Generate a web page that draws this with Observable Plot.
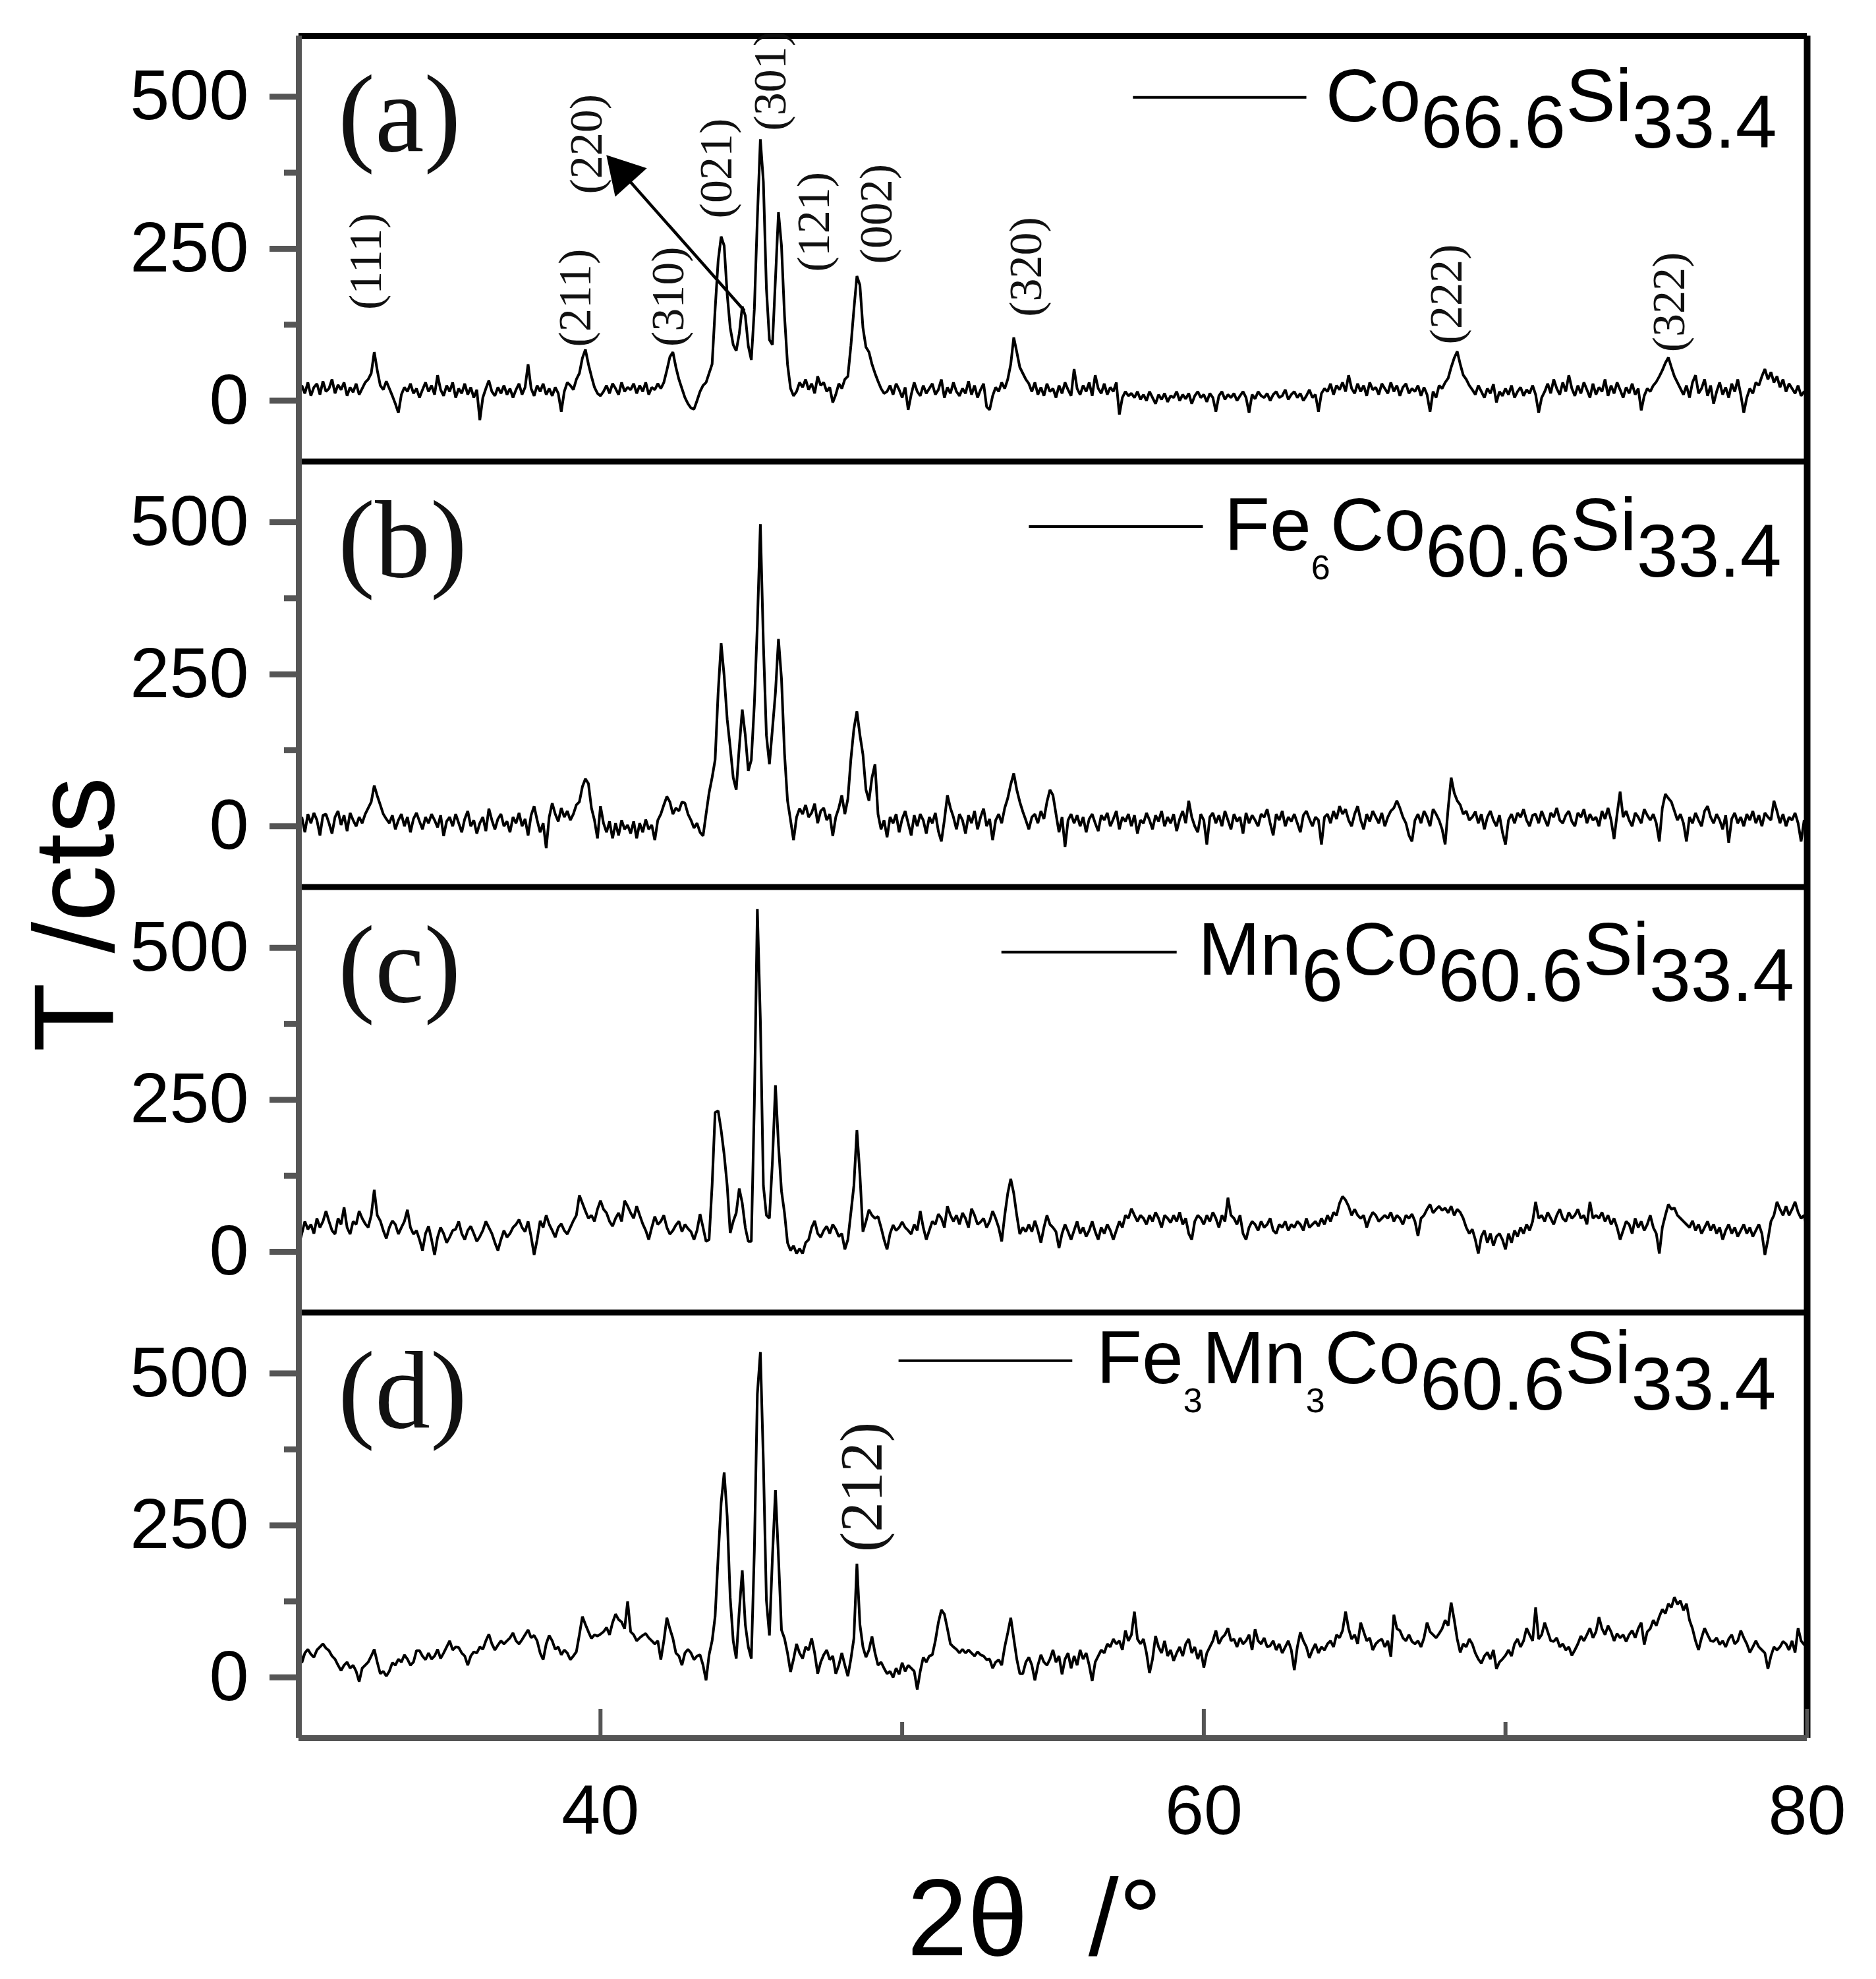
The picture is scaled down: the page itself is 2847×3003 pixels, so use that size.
<!DOCTYPE html>
<html><head><meta charset="utf-8">
<script src="https://cdn.jsdelivr.net/npm/d3@7"></script>
<script src="https://cdn.jsdelivr.net/npm/@observablehq/plot@0.6"></script>
<style>
html,body{margin:0;padding:0;background:#fff;}
#chart{width:2847px;height:3003px;}
</style></head><body><div id="chart"></div>
<script>
// 2θ grid of the scans: 30° to 80°, step 0.1°
const twoThetaStart = 30, twoThetaStep = 0.1;

// (a) Co66.6Si33.4
const seriesA = [
5,25,12,30,8,22,28,10,32,15,
20,35,12,26,18,30,8,22,14,28,
10,20,30,35,45,80,50,25,18,32,
20,8,-5,-20,10,22,15,28,12,20,
5,18,30,15,25,10,42,18,8,25,
15,30,5,20,12,28,10,22,5,18,
-32,5,20,33,15,8,22,12,25,10,
20,5,18,28,10,22,60,20,8,25,
15,28,10,20,8,22,12,-18,15,30,
25,18,35,45,70,84,60,40,22,12,
8,15,25,12,28,20,10,30,15,22,
18,28,12,25,15,30,10,22,18,28,
20,30,50,72,80,55,35,20,5,-5,
-12,-14,0,15,25,30,45,60,150,230,
270,255,175,120,92,82,110,155,140,90,
67,150,300,430,360,185,100,92,200,310,
255,140,60,20,8,15,30,22,35,18,
28,12,40,25,30,15,22,-3,10,28,
20,35,40,90,150,205,190,120,88,80,
60,45,32,20,12,15,25,10,28,18,
5,22,-15,10,30,15,8,25,12,20,
28,10,18,35,5,22,12,30,15,8,
20,12,32,10,25,5,18,28,-10,-15,
8,22,15,30,20,35,60,104,80,55,
45,35,28,15,30,10,22,8,28,15,
20,5,25,12,30,18,8,52,20,10,
25,15,30,8,42,20,12,28,10,22,
15,30,-23,5,15,8,12,5,15,2,
10,0,15,5,-5,10,2,12,-2,8,
5,15,0,10,3,12,-5,8,15,5,
10,-2,12,5,-18,8,15,2,10,5,
12,0,8,15,5,-20,10,3,15,8,
5,12,0,10,15,5,8,18,2,10,
15,5,12,0,8,18,5,10,-18,12,
20,15,28,10,25,18,30,15,42,20,
12,28,15,25,8,30,18,22,10,28,
20,12,30,15,25,8,22,28,12,20,
15,25,8,22,10,-18,15,5,25,20,
30,37,55,70,81,60,42,35,25,18,
10,25,15,5,20,12,27,-3,15,8,
20,10,25,5,15,22,8,18,12,25,
10,-20,5,15,28,12,35,20,10,30,
15,42,20,8,25,12,30,18,5,28,
10,22,15,35,8,25,12,30,18,5,
22,12,28,10,20,-16,8,20,15,25,
31,40,50,62,71,55,40,30,20,10,
25,5,30,42,12,20,35,8,25,-5,
15,30,10,22,5,28,15,35,10,-20,
5,20,12,30,25,40,52,35,47,30,
40,22,35,15,28,20,12,25,8,15,
12];

// (b) Fe6Co60.6Si33.4
const seriesB = [
0,15,-10,20,5,22,10,-15,18,20,
5,-12,15,25,2,18,-8,22,10,0,
15,5,20,30,40,67,50,35,20,12,
5,18,-5,10,20,0,15,-10,12,22,
8,-5,15,5,20,10,-2,18,-16,8,
15,0,20,5,-10,12,25,0,10,-12,
5,15,-8,29,10,-5,12,20,0,8,
-10,15,5,22,0,12,-15,18,33,10,
-10,5,-36,15,38,20,8,30,15,25,
10,20,35,40,65,78,70,30,10,-20,
33,5,-10,8,-20,5,-15,10,-5,2,
-12,8,-20,5,-10,11,-5,2,-23,10,
20,35,49,40,20,30,25,40,38,20,
10,-3,5,-10,-16,20,55,80,109,220,
301,247,176,130,80,60,130,192,150,91,
109,200,332,497,300,150,102,160,220,308,
243,120,42,10,-23,15,29,20,35,15,
22,37,5,25,30,10,20,-16,15,30,
51,20,45,110,160,189,150,118,60,42,
80,102,20,-5,10,-18,15,5,20,-10,
12,25,5,-15,18,0,20,10,-12,15,
5,22,-8,-25,10,51,30,15,-5,20,
10,-12,18,5,25,-5,15,29,0,12,
-23,10,20,5,30,46,69,87,60,40,
24,10,-5,15,20,5,25,12,40,60,
51,20,-10,15,-34,10,20,5,18,0,
15,-10,12,20,5,-8,18,10,22,0,
12,25,-5,15,8,20,0,18,-12,10,
5,22,10,-5,18,8,25,0,15,5,
20,-8,12,25,5,42,15,0,-10,20,
10,-30,15,22,5,18,0,25,10,-5,
20,8,15,-12,22,5,18,10,0,20,
15,28,5,-15,20,10,25,0,15,8,
20,5,-10,18,25,12,0,15,10,-30,
15,20,5,25,12,33,20,28,10,0,
20,33,10,-5,20,8,25,15,5,22,
0,15,25,30,42,30,15,5,-15,-25,
10,20,5,25,15,0,28,20,10,-5,
-30,30,80,55,42,35,20,25,10,15,
24,5,20,-5,15,25,10,0,18,-10,
-30,10,20,5,22,15,28,10,0,18,
20,5,25,12,0,22,15,30,10,5,
18,25,8,0,22,15,28,5,20,10,
15,0,25,12,30,10,-21,20,57,15,
25,10,0,22,15,5,28,18,10,20,
5,-25,30,53,46,40,25,10,20,5,
-25,15,5,22,10,0,25,33,15,5,
20,10,-5,18,-27,12,22,5,15,0,
20,10,25,5,18,0,22,15,10,42,
25,5,20,0,15,10,22,5,-25,10,
2];

// (c) Mn6Co60.6Si33.4
const seriesC = [
11,30,50,37,45,30,55,40,50,67,
50,35,29,55,45,73,40,29,50,45,
67,55,46,40,60,102,60,51,35,22,
40,51,45,29,40,50,69,40,29,35,
20,2,30,42,20,-5,24,40,30,15,
24,35,37,50,30,20,35,42,30,17,
25,35,50,40,30,15,2,20,35,24,
30,40,45,53,40,33,50,25,-5,20,
51,40,60,45,35,24,40,46,35,29,
40,51,60,93,80,67,55,60,50,70,
84,70,64,50,42,55,64,50,84,75,
64,55,75,60,46,35,20,40,58,45,
50,60,40,29,35,44,50,33,45,38,
33,20,35,62,40,17,20,109,229,232,
200,160,109,31,50,64,104,80,40,17,
17,243,564,381,109,60,55,149,274,176,
100,64,15,2,10,-3,5,-3,15,20,
40,51,30,24,35,42,30,45,37,25,
30,4,20,64,109,200,127,33,50,69,
60,55,58,40,20,4,30,44,35,40,
49,40,35,29,45,35,67,40,20,35,
50,45,62,55,40,75,60,50,60,45,
64,55,40,71,60,45,49,55,40,50,
67,55,40,17,60,96,120,96,60,29,
40,33,45,33,51,35,15,40,60,45,
40,33,6,30,45,33,20,35,50,30,
40,25,35,50,33,20,40,30,45,35,
20,35,50,40,60,55,71,60,50,60,
55,45,60,50,65,55,40,60,55,48,
60,50,65,45,55,30,20,50,60,55,
45,60,50,65,55,40,60,50,89,60,
55,45,60,30,20,40,50,45,35,50,
40,45,55,35,30,45,40,50,35,45,
40,50,45,35,55,40,45,50,42,55,
45,60,50,65,60,80,91,85,75,60,
70,60,55,60,40,55,65,60,50,55,
60,55,65,50,60,55,45,60,55,62,
50,26,55,60,70,78,64,70,75,68,
72,64,75,60,70,65,55,40,30,37,
20,-3,25,35,15,30,10,25,30,20,
4,30,15,35,25,40,30,45,35,50,
82,55,60,50,65,55,45,60,70,55,
50,65,55,60,70,55,60,45,82,55,
60,55,65,50,60,45,55,40,20,35,
50,45,30,55,40,50,35,45,60,40,
30,-3,40,60,78,70,72,60,55,50,
45,40,51,35,45,30,40,50,35,45,
30,40,20,35,45,30,40,25,35,45,
30,40,25,35,45,30,-5,20,50,60,
82,70,60,75,60,70,82,65,55,60,
37];

// (d) Fe3Mn3Co60.6Si33.4
const seriesD = [
60,24,40,46,38,33,45,50,55,48,
44,35,30,20,11,20,25,15,20,10,
-7,15,20,25,35,46,25,6,10,2,
10,24,20,30,25,37,30,20,25,44,
44,35,29,40,30,35,46,31,40,50,
60,45,50,49,40,35,20,35,42,40,
50,46,60,71,55,45,53,60,55,60,
65,73,60,55,62,70,78,65,69,60,
40,29,55,69,60,46,50,37,45,40,
29,35,42,70,100,87,75,64,70,68,
71,75,82,70,90,104,95,91,80,125,
75,70,60,65,69,72,65,60,55,60,
29,60,98,80,64,40,35,20,40,46,
40,29,35,37,20,-5,37,60,100,198,
287,337,265,131,60,31,109,176,87,50,
31,207,466,535,354,127,69,198,308,198,
78,64,40,9,30,55,40,31,50,45,
64,40,6,25,37,45,29,35,6,20,
40,20,2,30,64,187,87,50,33,45,
67,40,20,25,15,6,10,0,15,5,
24,10,20,15,10,-20,10,33,25,35,
37,60,90,111,104,80,55,50,46,40,
46,40,45,40,35,42,37,35,29,30,
15,25,29,20,50,73,98,64,30,6,
6,25,33,20,-5,20,37,25,20,30,
45,25,35,5,30,40,15,35,20,45,
30,40,20,-6,25,35,45,40,55,50,
63,55,60,45,77,60,70,108,63,55,
63,40,7,30,68,50,40,60,35,45,
27,40,50,35,55,63,40,50,30,45,
16,40,50,60,77,55,65,70,81,60,
63,50,65,55,60,70,45,79,60,55,
65,50,52,60,45,55,40,50,60,45,
12,50,74,60,50,32,45,55,40,50,
45,55,60,50,70,65,77,108,80,63,
70,55,90,75,60,65,45,55,60,63,
50,60,34,103,80,77,65,60,70,59,
55,60,50,65,90,75,70,65,72,80,
94,85,123,95,63,41,55,50,63,55,
40,30,23,35,41,30,45,14,25,30,
36,45,35,55,63,50,60,81,70,60,
115,63,70,90,75,60,59,65,50,55,
45,50,36,45,55,68,60,70,81,65,
75,99,80,70,85,75,60,72,65,70,
59,70,77,65,80,90,54,75,80,94,
85,100,112,105,121,115,132,120,126,110,
121,94,80,60,45,65,81,70,60,59,
65,54,60,50,63,70,55,60,77,65,
55,41,50,60,50,45,40,14,35,50,
45,50,59,55,45,60,41,81,60,54,
50];

const panelLetters = ["(a)", "(b)", "(c)", "(d)"];
const panelSeries = [seriesA, seriesB, seriesC, seriesD];
const yTickValues = [0, 250, 500];
const yMinorValues = [125, 375];
const xTickValues = [40, 60, 80];
const xMinorValues = [50, 70];

// Miller-index labels (panel a) : text, 2θ, intensity at label centre
const hklText = ["(111)", "(211)", "(310)", "(220)", "(021)", "(301)", "(121)", "(002)", "(320)", "(222)", "(322)"];
const hklAngle = [32.23, 39.17, 42.25, 39.55, 43.85, 45.64, 47.08, 49.16, 54.12, 68.05, 75.43];
const hklLevel = [229, 169, 171, 422, 382, 526, 294, 307, 220, 175, 162];

// legends: formula pieces (kind 0 normal, 1 subscript, 2 small subscript)
const legendParts = [
  [["Co",0],["66.6",1],["Si",0],["33.4",1]],
  [["Fe",0],["6",2],["Co",0],["60.6",1],["Si",0],["33.4",1]],
  [["Mn",0],["6",1],["Co",0],["60.6",1],["Si",0],["33.4",1]],
  [["Fe",0],["3",2],["Mn",0],["3",2],["Co",0],["60.6",1],["Si",0],["33.4",1]]
];

// ---------- layout ----------
const W = 2847, H = 3003;
const PANEL_SPAN = 700;                         // each panel shows -100..600
const panelOffset = [3, 2, 1, 0].map(k => k * PANEL_SPAN);
const sans = "'Liberation Sans', Arial, Helvetica, sans-serif";
const serif = "'Liberation Serif', 'Times New Roman', serif";
const gray = "#555";

const twoTheta = d3.range(seriesA.length).map(i => Math.round((twoThetaStart + i * twoThetaStep) * 10) / 10);
const rows = [];
panelSeries.forEach((s, p) => s.forEach((v, i) => rows.push({x: twoTheta[i], y: v + panelOffset[p], panel: p})));

const majorTicks = panelOffset.flatMap(o => yTickValues.map(v => v + o));
const minorTicks = panelOffset.flatMap(o => yMinorValues.map(v => v + o));
const fmt = d => String(((d % PANEL_SPAN) + PANEL_SPAN) % PANEL_SPAN);

const hklRows = hklText.map((t, i) => ({t, x: hklAngle[i], y: hklLevel[i] + panelOffset[0]}));
const letterRows = panelLetters.map((t, p) => ({t, x: 31.3, y: 411 + panelOffset[p]}));

const legendPos = [
  {x1: 57.65, x2: 63.40, yl: 499, xt: 64.05, yt: 459},
  {x1: 54.20, x2: 59.97, yl: 493, xt: 60.69, yt: 453},
  {x1: 53.29, x2: 59.10, yl: 493, xt: 59.82, yt: 455},
  {x1: 49.88, x2: 55.64, yl: 521, xt: 56.45, yt: 483}
];
const legendLines = legendPos.map((L, p) => ({x1: L.x1, x2: L.x2, y: L.yl + panelOffset[p]}));

const pxToY = 2800 / 2583;   // data units per pixel vertically

const plot = Plot.plot({
  width: W, height: H,
  marginLeft: 453, marginRight: 105, marginTop: 54, marginBottom: 366,
  x: {domain: [30, 80]},
  y: {domain: [-100, 2700]},
  style: {fontFamily: sans, background: "#fff", color: "#000", overflow: "visible"},
  marks: [
    Plot.line(rows, {x: "x", y: "y", z: "panel", stroke: "#000", strokeWidth: 4, strokeLinejoin: "miter"}),
    // frame and panel separators
    Plot.ruleY([600, 1300, 2000, 2700], {stroke: "#000", strokeWidth: 9}),
    Plot.ruleX([80], {stroke: "#000", strokeWidth: 10}),
    Plot.ruleX([30], {stroke: gray, strokeWidth: 9}),
    Plot.ruleY([-100], {stroke: gray, strokeWidth: 9}),
    // y axes
    Plot.axisY(majorTicks, {anchor: "left", tickSize: 44, tickPadding: 32, fontSize: 108, tickFormat: fmt, stroke: gray, strokeWidth: 9, fill: "#000", label: null}),
    Plot.axisY(minorTicks, {anchor: "left", tickSize: 22, tickFormat: () => "", stroke: gray, strokeWidth: 9, label: null}),
    // x axis: inward ticks + labels
    Plot.ruleX(xTickValues, {y1: -100, y2: -100 + 44 * pxToY, stroke: gray, strokeWidth: 6}),
    Plot.ruleX(xMinorValues, {y1: -100, y2: -100 + 24 * pxToY, stroke: gray, strokeWidth: 6}),
    Plot.axisX(xTickValues, {anchor: "bottom", tickSize: 0, tickPadding: 70, fontSize: 106, fill: "#000", label: null}),
    // annotations
    Plot.text(hklRows, {x: "x", y: "y", text: "t", rotate: -90, fontSize: 70, fontFamily: serif, textAnchor: "middle", lineAnchor: "middle", fill: "#111"}),
    Plot.text([{t: "(212)", x: 48.68, y: 313 + panelOffset[3]}], {x: "x", y: "y", text: "t", rotate: -90, fontSize: 91, fontFamily: serif, textAnchor: "middle", lineAnchor: "middle", fill: "#111"}),
    Plot.text(letterRows, {x: "x", y: "y", text: "t", fontSize: 168, fontFamily: serif, textAnchor: "start", lineAnchor: "bottom", fill: "#111"}),
    Plot.link([{x1: 44.77, y1: 148 + panelOffset[0], x2: 40.74, y2: 374 + panelOffset[0]}], {x1: "x1", y1: "y1", x2: "x2", y2: "y2", stroke: "#000", strokeWidth: 4.5}),
    Plot.dot([{x: 40.74, y: 374 + panelOffset[0]}], {x: "x", y: "y", symbol: "triangle", r: 24, rotate: -42, fill: "#000", stroke: "none"}),
    Plot.link(legendLines, {x1: "x1", x2: "x2", y1: "y", y2: "y", stroke: "#000", strokeWidth: 4})
  ]
});

// rich-text legends placed with the plot's own scales
const xs = plot.scale("x"), ys = plot.scale("y");
const g = d3.select(plot).append("g").attr("font-family", sans).attr("fill", "#000").attr("text-anchor", "start");
legendPos.forEach((L, p) => {
  const t = g.append("text").attr("x", xs.apply(L.xt)).attr("y", ys.apply(L.yt + panelOffset[p]))
    .attr("font-size", 113).attr("text-anchor", "start");
  let cur = 0;
  legendParts[p].forEach(([txt, kind]) => {
    const target = kind === 1 ? 40 : kind === 2 ? 44 : 0;
    t.append("tspan").attr("dy", target - cur).attr("font-size", kind === 2 ? 52 : 113).text(txt);
    cur = target;
  });
});
// axis titles
g.append("text").attr("x", xs.apply(54.4)).attr("y", H - 36).attr("text-anchor", "middle")
  .attr("font-size", 165).style("white-space", "pre").text("2θ  /°");
g.append("text").attr("transform", `translate(172,${(ys.apply(1300) + 42)}) rotate(-90)`).attr("text-anchor", "middle")
  .attr("font-size", 172).text("T /cts");

document.getElementById("chart").append(plot);
</script>
</body></html>
